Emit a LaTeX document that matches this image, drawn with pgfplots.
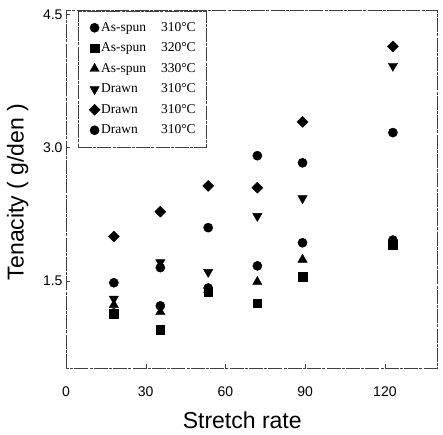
\documentclass[border=0pt]{standalone}
\usepackage{fontspec}
\setmainfont{Liberation Sans}
\newfontfamily\legfont{Liberation Serif}
\usepackage{pgfplots}
\pgfplotsset{compat=1.18}

% legend text: name in a fixed box so that the temperatures line up
\newcommand{\legtxt}[2]{\makebox[60pt][l]{#1}\makebox[33pt][l]{#2°C}}

\begin{document}
\begin{tikzpicture}
\begin{axis}[
    scale only axis,
    width=371pt, height=358pt,
    xmin=0, xmax=139.6,
    ymin=0.52, ymax=4.55,
    xtick={0,30,60,90,120},
    ytick={1.5,3.0,4.5},
    yticklabel style={/pgf/number format/fixed,/pgf/number format/fixed zerofill,/pgf/number format/precision=1},
    /pgf/number format/assume math mode=true,
    tick label style={font=\fontsize{14}{16}\selectfont},
    xticklabel style={yshift=-15pt},
    tick align=inside, major tick length=4pt,
    xtick pos=left, ytick pos=left,
    axis line style={thin, black!75, dash pattern=on 14pt off 1.2pt on 3pt off 1.2pt},
    every tick/.style={black!75, thin},
    xlabel={Stretch rate},
    ylabel={Tenacity ( g/den )},
    label style={font=\fontsize{23}{25}\selectfont},
    xlabel style={at={(axis description cs:0.475,-0.145)}, anchor=center},
    ylabel style={at={(axis description cs:-0.13,0.492)}, anchor=center},
    legend style={at={(0.032,0.997)}, anchor=north west,
        draw=black!75, thin, dash pattern=on 14pt off 1.2pt on 3pt off 1.2pt,
        font=\legfont\fontsize{13.5}{15}\selectfont,
        inner xsep=11pt, inner ysep=9pt, row sep=5.5pt,
        /tikz/every even column/.append style={column sep=2pt},
        nodes={inner sep=1pt, text height=10pt, text depth=3pt, solid}},
    legend cell align=left,
    legend image code/.code={\draw[#1] plot coordinates {(0pt,0pt)};},
    every axis plot/.append style={only marks, black, mark options={fill=black, draw=black, solid}},
]

\addplot[mark=*, mark size=4.6pt] coordinates {
(18,1.14) (35.5,1.22) (53.5,1.42) (72,1.67) (89,1.93) (123,1.96)
};
\addlegendentry{\legtxt{As-spun}{310}}

\addplot[mark=square*, mark size=4.2pt] coordinates {
(18,1.13) (35.5,0.95) (53.5,1.38) (72,1.25) (89,1.55) (123,1.91)
};
\addlegendentry{\legtxt{As-spun}{320}}

\addplot[mark=triangle*, mark size=5.4pt] coordinates {
(18,1.23) (35.5,1.15) (53.5,1.40) (72,1.49) (89,1.74)
};
\addlegendentry{\legtxt{As-spun}{330}}

\addplot[mark=triangle*, mark size=5.4pt, mark options={rotate=180}] coordinates {
(18,1.30) (35.5,1.71) (53.5,1.60) (72,2.23) (89,2.43) (123,3.92)
};
\addlegendentry{\legtxt{Drawn}{310}}

\addplot[mark=square*, mark size=3.9pt, mark options={rotate=45}] coordinates {
(18,2.00) (35.5,2.28) (53.5,2.57) (72,2.55) (89,3.29) (123,4.14)
};
\addlegendentry{\legtxt{Drawn}{310}}

\addplot[mark=*, mark size=4.6pt] coordinates {
(18,1.48) (35.5,1.65) (53.5,2.10) (72,2.91) (89,2.83) (123,3.17)
};
\addlegendentry{\legtxt{Drawn}{310}}

\coordinate (sw) at (rel axis cs:0,0);
\coordinate (ne) at (rel axis cs:1,1);
\end{axis}
\pgfresetboundingbox
\path[use as bounding box] ([shift={(-66pt,-66pt)}]sw) rectangle ([shift={(6pt,10pt)}]ne);
\end{tikzpicture}
\end{document}
